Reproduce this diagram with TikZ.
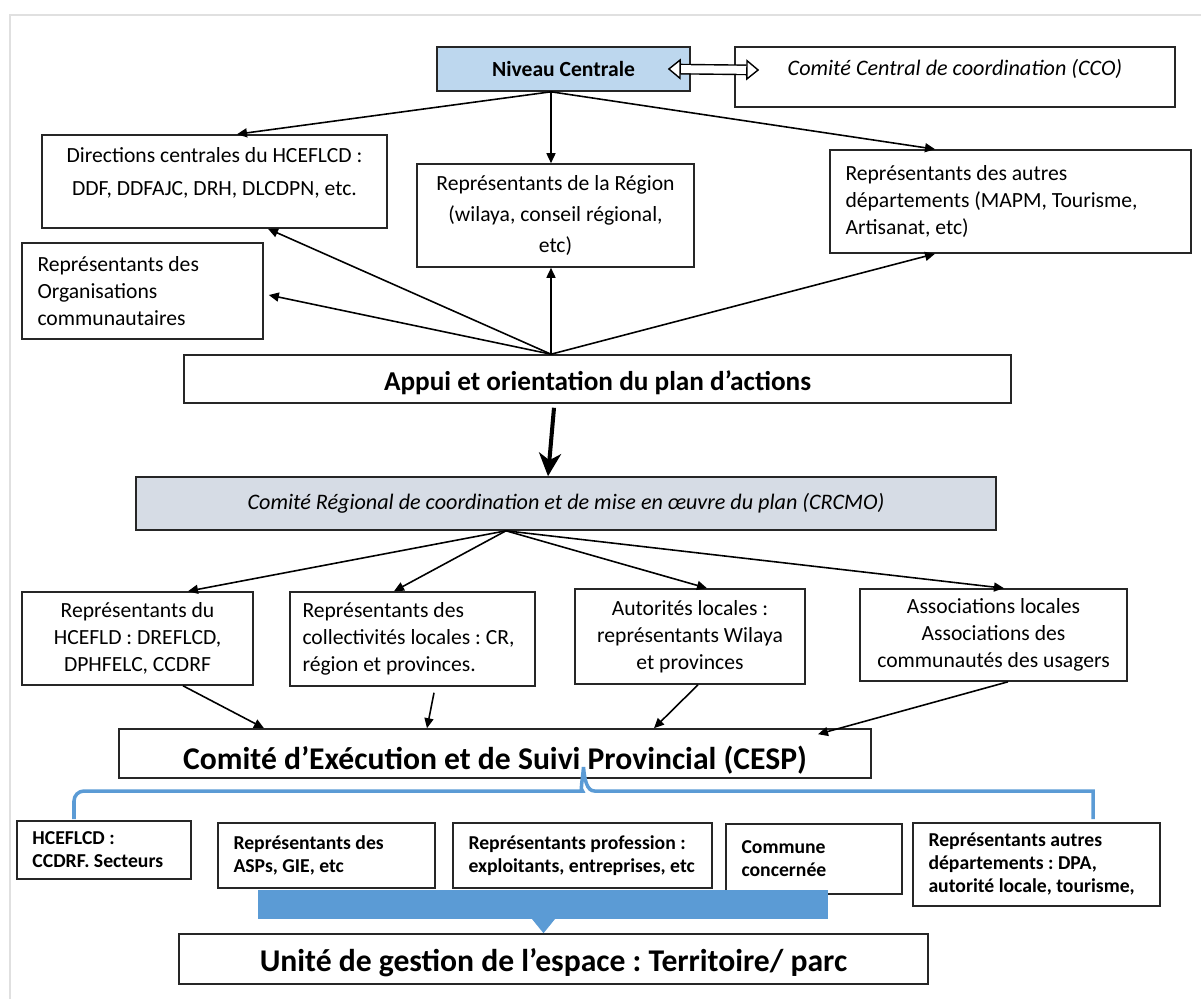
\documentclass[tikz,border=0pt]{standalone}
\usepackage{fontspec}
\setmainfont{Carlito}
\usetikzlibrary{arrows.meta}
\frenchspacing

\definecolor{lightblue}{HTML}{BDD7EE}
\definecolor{greyblue}{HTML}{D6DCE5}
\definecolor{officeblue}{HTML}{5B9BD5}

\tikzset{
  box/.style={draw=black!85, line width=0.9pt, inner xsep=0.31cm, inner ysep=0pt,
    font=\fontsize{12.3}{15.4}\selectfont},
  smallbox/.style={box, align=flush left, font=\fontsize{11.2}{13.1}\selectfont\bfseries},
  bigbox/.style={box, font=\fontsize{18}{21}\selectfont\bfseries},
  arr/.style={line width=0.9pt, -{Triangle[length=0.2cm,width=0.18cm]}},
}

\begin{document}
\begin{tikzpicture}
\useasboundingbox (0,0) rectangle (24.02,-19.98);
\draw[black!12, line width=1pt] (0.2,-19.98) -- (0.2,-0.3) -- (24.02,-0.3);

\node[box, fill=lightblue, minimum width=5.06cm, minimum height=0.88cm,
  font=\fontsize{12.3}{14}\selectfont\bfseries] (niveau) at (11.27,-1.38) {Niveau Centrale};
\node[box, minimum width=8.8cm, text height=0.58cm, text depth=0.62cm,
  font=\fontsize{12.6}{15}\selectfont\itshape] (cco) at (19.1,-1.54) {Comité Central de coordination (CCO)};
\node[box, text width=6.28cm, align=flush center, text height=0.56cm, text depth=1.3cm] (directions) at (4.29,-3.63)
  {Directions centrales du HCEFLCD :\\[3pt] DDF, DDFAJC, DRH, DLCDPN, etc.};
\node[box, text width=4.92cm, align=flush center, minimum height=2.06cm] (region) at (11.11,-4.31)
  {Représentants de la Région\\[2pt] (wilaya, conseil régional,\\[2pt] etc)};
\node[box, text width=6.6cm, align=flush left, minimum height=2.06cm] (autres) at (20.21,-4.03)
  {Représentants des autres\\ départements (MAPM, Tourisme,\\ Artisanat, etc)};
\node[box, text width=4.2cm, align=flush left, minimum height=1.92cm] (organisations) at (2.85,-5.82)
  {Représentants des\\ Organisations\\ communautaires};
\node[box, minimum width=16.54cm, text height=0.7cm, text depth=0.26cm,
  font=\fontsize{15.5}{18}\selectfont\bfseries] (appui) at (11.95,-7.58) {Appui et orientation du plan d’actions};
\node[box, fill=greyblue, minimum width=17.2cm, minimum height=1.06cm,
  font=\fontsize{12.6}{15}\selectfont\itshape] (crcmo) at (11.32,-10.07)
  {Comité Régional de coordination et de mise en œuvre du plan (CRCMO)};

\node[box, text width=4.0cm, align=flush center, minimum height=1.86cm] (hcefld) at (2.75,-12.77)
  {Représentants du\\ HCEFLD : DREFLCD,\\ DPHFELC, CCDRF};
\node[box, text width=4.4cm, inner xsep=0.25cm, align=flush left, minimum height=1.88cm] (collectivites) at (8.25,-12.78)
  {Représentants des\\ collectivités locales : CR,\\ région et provinces.};
\node[box, text width=3.98cm, align=flush center, minimum height=1.9cm] (autorites) at (13.8,-12.73)
  {Autorités locales :\\ représentants Wilaya\\ et provinces};
\node[box, text width=4.72cm, align=flush center, minimum height=1.84cm] (associations) at (19.87,-12.7)
  {Associations locales\\ Associations des\\ communautés des usagers};

\node[bigbox, minimum width=15.04cm, text height=0.8cm, text depth=0.18cm] (cesp) at (9.9,-15.07)
  {Comité d’Exécution et de Suivi Provincial (CESP)};

\node[smallbox, text width=2.86cm, minimum height=1.16cm] (hceflcd) at (2.08,-17.0)
  {HCEFLCD :\\ CCDRF. Secteurs};
\node[smallbox, text width=3.72cm, minimum height=1.3cm] (asps) at (6.53,-17.11)
  {Représentants des\\ ASPs, GIE, etc};
\node[smallbox, text width=4.56cm, minimum height=1.3cm] (profession) at (11.65,-17.11)
  {Représentants profession :\\ exploitants, entreprises, etc};
\node[smallbox, text width=2.9cm, minimum height=1.4cm] (commune) at (16.28,-17.18)
  {Commune\\ concernée};
\node[smallbox, text width=4.32cm, minimum height=1.66cm] (autresdep) at (20.73,-17.29)
  {Représentants autres\\ départements : DPA,\\ autorité locale, tourisme,};

\node[bigbox, minimum width=14.98cm, text height=0.74cm, text depth=0.26cm] (unite) at (11.07,-19.18)
  {Unité de gestion de l’espace : Territoire/ parc};

\draw[arr] ([xshift=-0.25cm]niveau.south) -- ([xshift=0.45cm]directions.north);
\draw[arr] ([xshift=-0.25cm]niveau.south) -- ([xshift=-0.09cm]region.north);
\draw[arr] ([xshift=-0.25cm]niveau.south) -- ([xshift=-1.51cm]autres.north);
\draw[double, double distance=0.16cm, line width=0.8pt,
  {Triangle[length=0.26cm,width=0.42cm,fill=white]}-{Triangle[length=0.26cm,width=0.42cm,fill=white]}]
  ([xshift=-0.46cm]niveau.east) -- ([xshift=0.5cm,yshift=0.14cm]cco.west);

\draw[arr] ([xshift=-0.93cm]appui.north) -- ([xshift=1.07cm]directions.south);
\draw[arr] ([xshift=-0.93cm]appui.north) -- ([xshift=0.1cm,yshift=-0.08cm]organisations.east);
\draw[arr] ([xshift=-0.93cm]appui.north) -- ([xshift=-0.09cm]region.south);
\draw[arr] ([xshift=-0.93cm]appui.north) -- ([xshift=-1.51cm]autres.south);
\draw[line width=2.3pt, -{Stealth[length=0.46cm,width=0.44cm,inset=0.14cm]}]
  ([xshift=-0.87cm,yshift=-0.08cm]appui.south) -- ([xshift=-0.36cm]crcmo.north);

\draw[arr] ([xshift=-1.2cm]crcmo.south) -- ([xshift=1.01cm]hcefld.north);
\draw[arr] ([xshift=-1.2cm]crcmo.south) -- ([xshift=-0.37cm]collectivites.north);
\draw[arr] ([xshift=-1.2cm]crcmo.south) -- ([xshift=0.34cm]autorites.north);
\draw[arr] ([xshift=-1.2cm]crcmo.south) -- ([xshift=0.21cm]associations.north);

\draw[arr] ([xshift=0.91cm]hcefld.south) -- ([xshift=-4.62cm]cesp.north);
\draw[arr] ([xshift=0.43cm,yshift=-0.12cm]collectivites.south) -- ([xshift=-1.36cm]cesp.north);
\draw[arr] ([xshift=0.16cm]autorites.south) -- ([xshift=3.18cm]cesp.north);
\draw[arr] ([xshift=0.29cm]associations.south) -- ([xshift=6.46cm,yshift=-0.12cm]cesp.north);

\draw[officeblue, line width=2pt] (1.48,-16.38) [rounded corners=0.2cm] -- (1.48,-15.82) -- (11.45,-15.82)
  [sharp corners] .. controls (11.6,-15.82) and (11.65,-15.6) .. (11.67,-15.34)
  .. controls (11.69,-15.6) and (11.74,-15.82) .. (11.89,-15.82) -- (21.86,-15.82)
  [rounded corners=0.2cm] -- (21.86,-16.38);

\fill[officeblue] (5.16,-17.8) rectangle (16.56,-18.38);
\fill[officeblue] (10.64,-18.38) -- (11.1,-18.38) -- ([xshift=-0.2cm]unite.north) -- cycle;
\end{tikzpicture}
\end{document}
